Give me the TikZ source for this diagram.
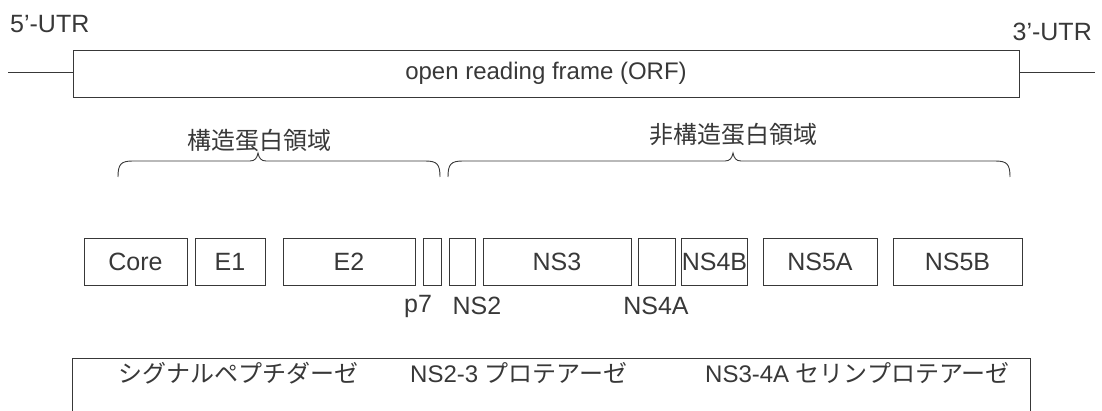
\documentclass[tikz,border=0pt]{standalone}
\usepackage{fontspec}
\setmainfont{Liberation Sans}
\newfontfamily\jp{Noto Sans CJK JP}
\definecolor{ink}{gray}{0.22}
\tikzset{
  ln/.style={draw=ink, line width=0.9pt},
  prot/.style={ln, minimum height=47pt, inner sep=0pt, text=ink, font=\fontsize{25}{28}\selectfont},
  lab/.style={inner sep=0pt, text=ink, font=\fontsize{25}{28}\selectfont},
  jlab/.style={inner sep=0pt, text=ink, font=\jp\fontsize{24}{28}\selectfont},
}
\begin{document}
\begin{tikzpicture}[x=1pt,y=-1pt]
\useasboundingbox (0,0) rectangle (1102,411);
% UTR labels
\node[lab, anchor=west] (utr5) at (10,24) {5'-UTR};
\node[lab, anchor=east] (utr3) at (1092,32) {3'-UTR};
% ORF
\node[ln, minimum width=946pt, minimum height=47pt, inner sep=0pt, text=ink,
      font=\fontsize{24}{28}\selectfont] (orf) at (546,73.5) {open reading frame (ORF)};
\coordinate (l5) at (8,72);
\coordinate (l3) at (1095,72);
\draw[ln] (l5) -- (l5 -| orf.west);
\draw[ln] (l3 -| orf.east) -- (l3);
% braces
\node[jlab] (sr) at (259,140) {構造蛋白領域};
\node[jlab] (nsr) at (733,134) {非構造蛋白領域};
\draw[ln] (118,177) .. controls (118,164) and (121,161) .. (133,161) -- (250,161)
  .. controls (255,161) and (257,158) .. (258,153)
  .. controls (259,158) and (261,161) .. (266,161) -- (425,161)
  .. controls (437,161) and (440,164) .. (440,177);
\draw[ln] (448,177) .. controls (448,164) and (451,161) .. (463,161) -- (725,161)
  .. controls (730,161) and (732,158) .. (733,153)
  .. controls (734,158) and (736,161) .. (741,161) -- (995,161)
  .. controls (1007,161) and (1010,164) .. (1010,177);
% proteins
\node[prot, minimum width=103pt] (core) at (135.5,261.5) {Core};
\node[prot, minimum width=70pt] (e1) at (230,261.5) {E1};
\node[prot, minimum width=132pt] (e2) at (349,261.5) {E2};
\node[prot, minimum width=18pt] (p7) at (432,261.5) {};
\node[prot, minimum width=26pt] (ns2) at (462,261.5) {};
\node[prot, minimum width=148pt] (ns3) at (557,261.5) {NS3};
\node[prot, minimum width=37pt] (ns4a) at (656.5,261.5) {};
\node[prot, minimum width=63pt] (ns4b) at (714.5,261.5) {NS4B};
\node[prot, minimum width=114pt] (ns5a) at (820,261.5) {NS5A};
\node[prot, minimum width=129pt] (ns5b) at (957.5,261.5) {NS5B};
\node[lab] (p7l) at (418,306) {p7};
\node[lab] (ns2l) at (477,306) {NS2};
\node[lab] (ns4al) at (656,306) {NS4A};
% bottom box
\coordinate (bl) at (72,411);
\coordinate (br) at (1030,411);
\draw[ln] (bl) -- (72,358) -- (1030,358) -- (br);
\node[jlab, anchor=west] (sp) at (118,373) {シグナルペプチダーゼ};
\node[jlab, anchor=west] (ns23) at (410,373) {\rmfamily NS2-3 \jp プロテアーゼ};
\node[jlab, anchor=west] (ns34) at (705,373) {\rmfamily NS3-4A \jp セリンプロテアーゼ};
\end{tikzpicture}
\end{document}
